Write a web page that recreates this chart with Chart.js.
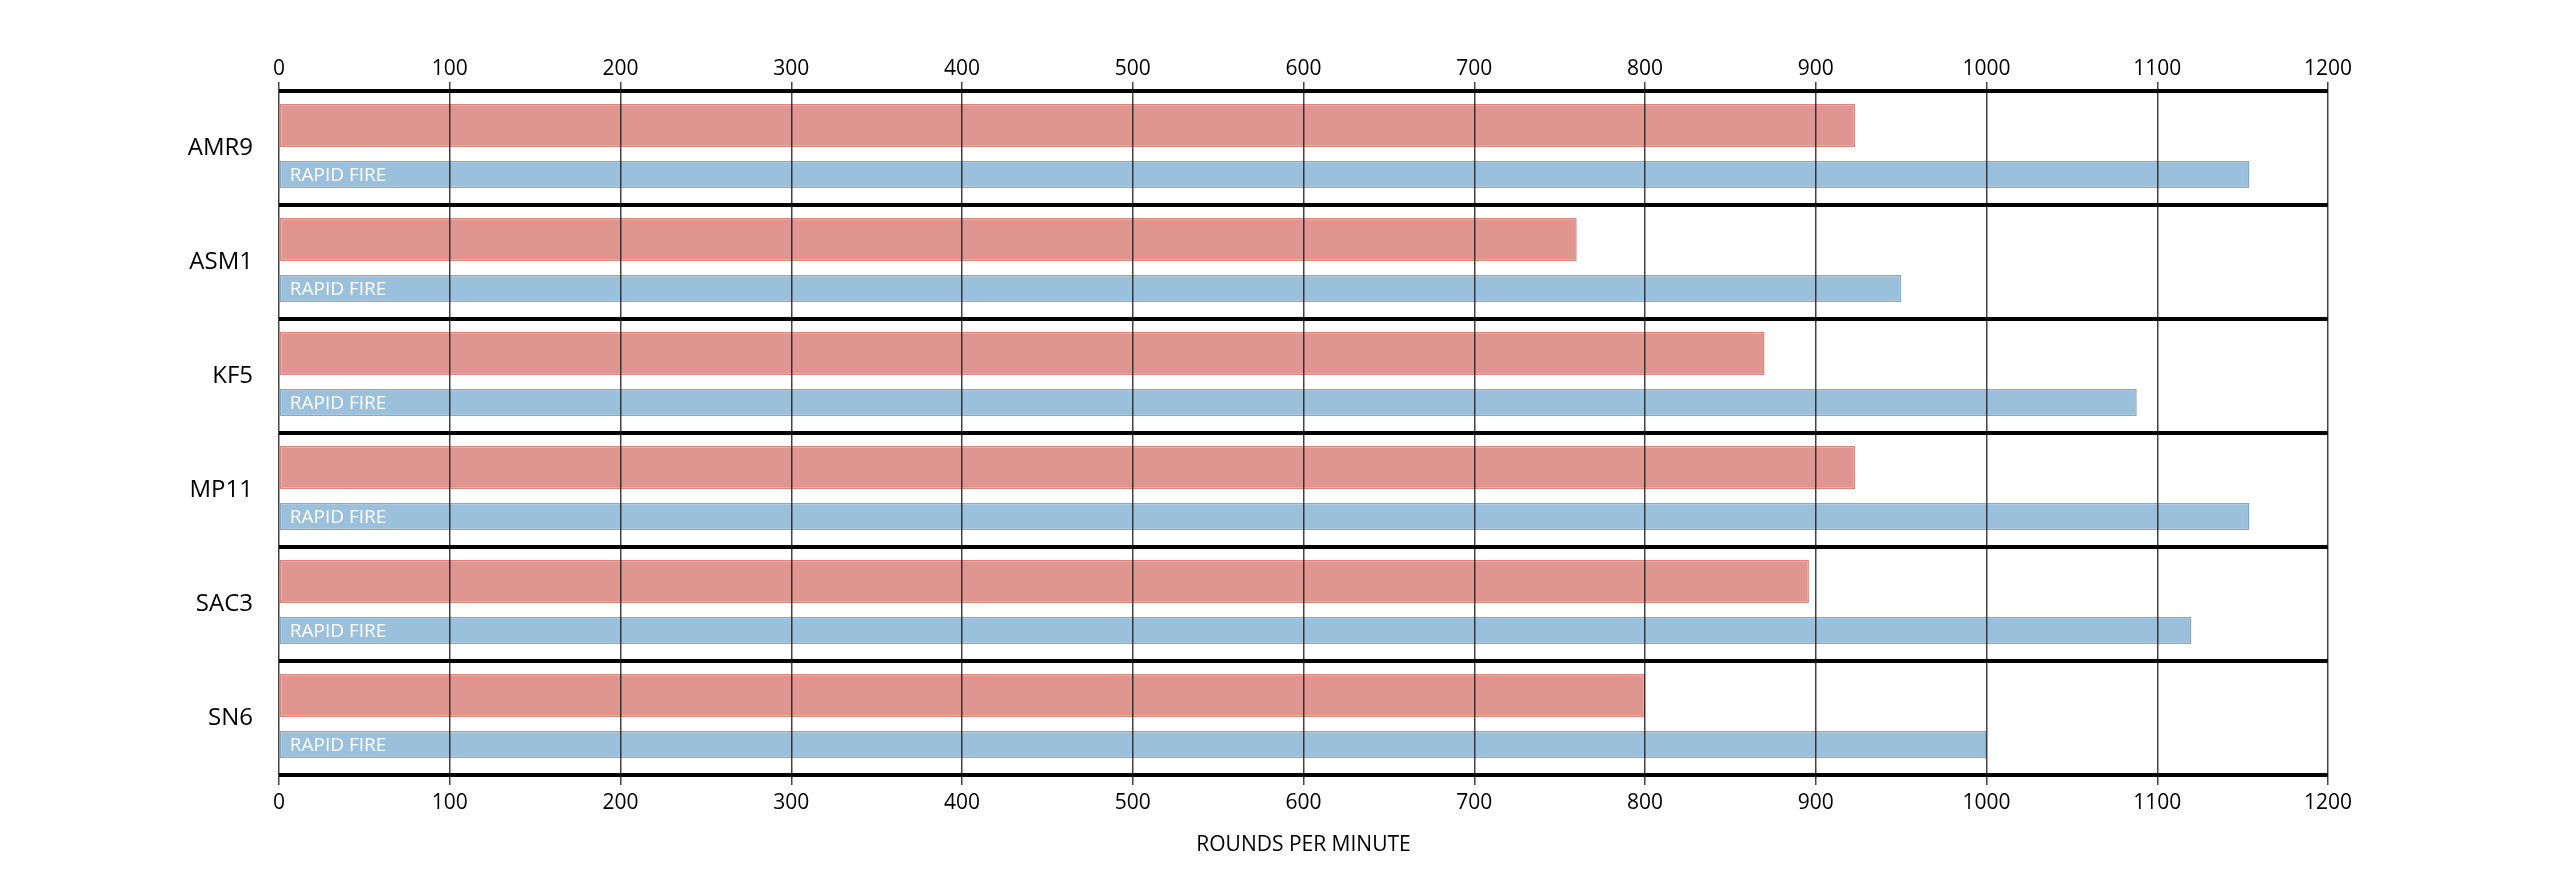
<!DOCTYPE html>
<html>
<head>
    <title>Rounds per minute</title>
    <script src="https://cdn.jsdelivr.net/npm/chart.js"></script>
    <style>
        html, body { margin: 0; padding: 0; background: #fff; }
        .chart-container { width: 2550px; height: 873px; position: relative; }
    </style>
</head>
<body>
    <div class="chart-container">
        <canvas id="rpmChart"></canvas>
    </div>

    <script>
        const weapons = ['AMR9', 'ASM1', 'KF5', 'MP11', 'SAC3', 'SN6'];
        const baseRpm = [923, 760, 870, 923, 896, 800];
        const rapidFireRpm = [1154, 950, 1088, 1154, 1120, 1000];
        const rapidLabel = 'RAPID FIRE';
        const axisTitle = 'ROUNDS PER MINUTE';

        const FONT = '"Open Sans", "Noto Sans", sans-serif';

        // plain numbers on the axes, no thousands separator
        const plainTick = value => String(value);

        // writes "RAPID FIRE" inside the start of every blue bar
        const rapidLabelPlugin = {
            id: 'rapidLabel',
            afterDatasetsDraw(chart) {
                const meta = chart.getDatasetMeta(1);
                const ctx = chart.ctx;
                ctx.save();
                ctx.fillStyle = '#ffffff';
                ctx.font = '19px ' + FONT;
                ctx.textBaseline = 'middle';
                ctx.textAlign = 'left';
                meta.data.forEach(bar => {
                    ctx.fillText(rapidLabel, bar.base + 10, bar.y + 1);
                });
                ctx.restore();
            }
        };

        function initChart() {
            const ctx = document.getElementById('rpmChart').getContext('2d');
            new Chart(ctx, {
                type: 'bar',
                data: {
                    labels: weapons,
                    datasets: [{
                        label: 'Standard',
                        data: baseRpm,
                        backgroundColor: '#e09690',
                        borderColor: '#e0847e',
                        borderWidth: 1.5,
                        borderSkipped: false,
                        categoryPercentage: 0.79,
                        barPercentage: 0.956
                    }, {
                        label: rapidLabel,
                        data: rapidFireRpm,
                        backgroundColor: '#9bc0db',
                        borderColor: '#86aac6',
                        borderWidth: 1.5,
                        borderSkipped: false,
                        categoryPercentage: 0.93,
                        barPercentage: 0.51
                    }]
                },
                options: {
                    indexAxis: 'y',
                    responsive: true,
                    maintainAspectRatio: false,
                    animation: false,
                    layout: { padding: { left: 0, right: 222, top: 0, bottom: 0 } },
                    plugins: {
                        legend: { display: false },
                        tooltip: { enabled: false }
                    },
                    scales: {
                        y: {
                            grid: {
                                offset: true,
                                color: '#000000',
                                lineWidth: 4,
                                drawTicks: false,
                                z: 1
                            },
                            border: { display: false },
                            ticks: {
                                color: '#000000',
                                padding: 26,
                                font: { family: FONT, size: 24 }
                            },
                            afterFit(scale) { scale.width = 279; }
                        },
                        x: {
                            position: 'bottom',
                            min: 0,
                            max: 1200,
                            grid: {
                                color: 'rgba(20, 20, 20, 0.8)',
                                lineWidth: 1.5,
                                tickLength: 10,
                                z: 1
                            },
                            border: { display: false },
                            ticks: {
                                stepSize: 100,
                                color: '#000000',
                                padding: 5,
                                font: { family: FONT, size: 21 },
                                callback: plainTick
                            },
                            title: {
                                display: true,
                                text: axisTitle,
                                color: '#000000',
                                padding: { top: 0, bottom: 15 },
                                font: { family: FONT, size: 21 }
                            },
                            afterFit(scale) { scale.height = 98; }
                        },
                        x2: {
                            position: 'top',
                            min: 0,
                            max: 1200,
                            grid: {
                                drawOnChartArea: false,
                                color: 'rgba(20, 20, 20, 0.8)',
                                lineWidth: 1.5,
                                tickLength: 9
                            },
                            border: { display: false },
                            ticks: {
                                stepSize: 100,
                                color: '#000000',
                                padding: 0,
                                font: { family: FONT, size: 21 },
                                callback: plainTick
                            },
                            afterFit(scale) { scale.height = 91; }
                        }
                    }
                },
                plugins: [rapidLabelPlugin]
            });
        }

        window.addEventListener('DOMContentLoaded', initChart);
    </script>
</body>
</html>
